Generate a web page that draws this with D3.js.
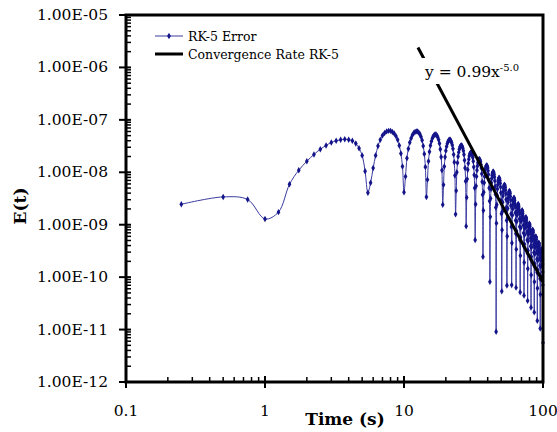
<!DOCTYPE html>
<html>
<head>
<meta charset="utf-8">
<script src="https://cdn.jsdelivr.net/npm/d3@7"></script>
<style>
  body { margin: 0; background: #fff; }
  svg { display: block; }
  text { font-family: "DejaVu Serif", serif; fill: #000; }
</style>
</head>
<body>
<svg id="chart"></svg>
<script>
const width = 557
const height = 432

const xTicks = [0.1, 1, 10, 100]
const xTickLabels = ['0.1', '1', '10', '100']
const yTicks = [1e-12, 1e-11, 1e-10, 1e-9, 1e-8, 1e-7, 1e-6, 1e-5]
const yTickLabels = ['1.00E-12', '1.00E-11', '1.00E-10', '1.00E-09', '1.00E-08', '1.00E-07', '1.00E-06', '1.00E-05']

// time step of the RK-5 run (s), first sample at t = dt
const dt = 0.25

// log10 of E(t), one value per step
const errExp = [
  -8.61, -8.47, -8.52, -8.89, -8.76, -8.23, -7.96, -7.79, -7.66, -7.56, -7.49,
  -7.43, -7.40, -7.38, -7.37, -7.38, -7.40, -7.45, -7.54, -7.68, -7.98, -8.39,
  // 5.75 - 10
  -8.20, -7.92, -7.68, -7.50, -7.38, -7.30, -7.25, -7.22, -7.21, -7.21, -7.23, -7.26, -7.31, -7.38, -7.49, -7.64, -7.89, -8.38,
  -8.08, -7.73, -7.55, -7.43, -7.35, -7.29, -7.25, -7.23, -7.22, -7.22, -7.24, -7.27, -7.32, -7.39, -7.50, -7.65, -7.90, -8.47,
  -8.14, -7.79, -7.61, -7.49, -7.41, -7.35, -7.31, -7.29, -7.28, -7.28, -7.30, -7.33, -7.38, -7.45, -7.56, -7.71, -7.96, -8.62,
  -8.24, -7.89, -7.71, -7.59, -7.51, -7.45, -7.41, -7.39, -7.38, -7.38, -7.40, -7.43, -7.48, -7.55, -7.66, -7.81, -8.06, -8.80,
  -8.35, -8.00, -7.82, -7.70, -7.62, -7.56, -7.52, -7.50, -7.49, -7.49, -7.51, -7.54, -7.59, -7.66, -7.77, -7.92, -8.17, -9.03,
  -8.48, -8.13, -7.95, -7.83, -7.75, -7.69, -7.65, -7.63, -7.62, -7.62, -7.64, -7.67, -7.72, -7.79, -7.90, -8.05, -8.30, -9.29,
  -8.61, -8.26, -8.08, -7.96, -7.88, -7.82, -7.78, -7.76, -7.75, -7.75, -7.77, -7.80, -7.85, -7.92, -8.03, -8.18, -8.43, -9.61,
  -8.73, -8.38, -8.20, -8.08, -8.00, -7.94, -7.90, -7.88, -7.87, -7.87, -7.89, -7.92, -7.97, -8.04, -8.15, -8.30, -8.55, -10.09,
  -8.85, -8.50, -8.32, -8.20, -8.12, -8.06, -8.02, -8.00, -7.99, -7.99, -8.01, -8.04, -8.09, -8.16, -8.27, -8.42, -8.67, -11.04,
  -8.97, -8.62, -8.44, -8.32, -8.24, -8.18, -8.14, -8.12, -8.11, -8.11, -8.13, -8.16, -8.21, -8.28, -8.39, -8.54, -8.79, -10.27,
  -9.10, -8.75, -8.57, -8.45, -8.37, -8.31, -8.27, -8.25, -8.24, -8.24, -8.26, -8.29, -8.34, -8.41, -8.52, -8.67, -8.92, -10.16,
  -9.22, -8.87, -8.69, -8.57, -8.49, -8.43, -8.39, -8.37, -8.36, -8.36, -8.38, -8.41, -8.46, -8.53, -8.64, -8.79, -9.04, -10.15,
  -9.35, -9.00, -8.82, -8.70, -8.62, -8.56, -8.52, -8.50, -8.49, -8.49, -8.51, -8.54, -8.59, -8.66, -8.77, -8.92, -9.17, -10.20,
  -9.47, -9.12, -8.94, -8.82, -8.74, -8.68, -8.64, -8.62, -8.61, -8.61, -8.63, -8.66, -8.71, -8.78, -8.89, -9.04, -9.29, -10.29,
  -9.59, -9.24, -9.06, -8.94, -8.86, -8.80, -8.76, -8.74, -8.73, -8.73, -8.75, -8.78, -8.83, -8.90, -9.01, -9.16, -9.41, -10.35,
  -9.72, -9.37, -9.19, -9.07, -8.99, -8.93, -8.89, -8.87, -8.86, -8.86, -8.88, -8.91, -8.96, -9.03, -9.14, -9.29, -9.54, -10.45,
  -9.84, -9.49, -9.31, -9.19, -9.11, -9.05, -9.01, -8.99, -8.98, -8.98, -9.00, -9.03, -9.08, -9.15, -9.26, -9.41, -9.66, -10.58,
  -9.96, -9.61, -9.43, -9.31, -9.23, -9.17, -9.13, -9.11, -9.10, -9.10, -9.12, -9.15, -9.20, -9.27, -9.38, -9.53, -9.78, -10.67,
  -10.09, -9.74, -9.56, -9.44, -9.36, -9.30, -9.26, -9.24, -9.23, -9.23, -9.25, -9.28, -9.33, -9.40, -9.51, -9.66, -9.91, -10.83,
  -10.21, -9.86, -9.68, -9.56, -9.48, -9.42, -9.38, -9.36, -9.35, -9.35, -9.37, -9.40, -9.45, -9.52, -9.63, -9.78, -10.03, -10.98,
  -10.33, -9.98, -9.80, -9.68, -9.60, -9.54, -9.50, -9.48, -9.47, -9.47, -9.49, -9.52, -9.57, -9.66, -9.75, -9.90, -10.15, -11.25
]

// power law trend line end points (t, E)
const trendT = [12.6, 100]
const trendE = [2.4e-6, 8.1e-11]

const seriesNames = ['RK-5 Error', 'Convergence Rate RK-5']
const navy = '#14148a'

const plot = { left: 126, right: 543, top: 15, bottom: 382 }

const svg = d3.select('#chart')
    .attr('width', width)
    .attr('height', height)

const x = d3.scaleLog().domain([0.1, 100]).range([plot.left, plot.right])
const y = d3.scaleLog().domain([1e-12, 1e-5]).range([plot.bottom, plot.top])

const data = errExp.map((e, i) => ({ t: (i + 1) * dt, e: Math.pow(10, e) }))

// minor ticks 2..9 in each decade
const minorX = []
for (let d = 0.1; d < 100; d *= 10) for (let k = 2; k <= 9; k++) minorX.push(d * k)
const minorY = []
for (let d = 1e-12; d < 1e-5; d *= 10) for (let k = 2; k <= 9; k++) minorY.push(d * k)

// error series
const line = d3.line()
    .x(d => x(d.t))
    .y(d => y(d.e))
    .curve(d3.curveCatmullRom.alpha(0.5))

svg.append('path')
    .datum(data)
    .attr('d', line)
    .attr('fill', 'none')
    .attr('stroke', '#3a3aa0')
    .attr('stroke-width', 1)

const diamond = d3.symbol().type(d3.symbolDiamond).size(12)
svg.append('g')
    .selectAll('path')
    .data(data)
    .join('path')
    .attr('d', diamond)
    .attr('transform', d => `translate(${x(d.t)},${y(d.e)})`)
    .attr('fill', navy)

// trend line
const trend = trendT.map((t, i) => ({ t: t, e: trendE[i] }))
svg.append('path')
    .datum(trend)
    .attr('d', d3.line().x(d => x(d.t)).y(d => y(d.e)))
    .attr('stroke', '#000')
    .attr('stroke-width', 3)

// trendline label on white box
svg.append('rect')
    .attr('x', 420).attr('y', 58)
    .attr('width', 98).attr('height', 26)
    .attr('fill', '#fff')
const eq = svg.append('text')
    .attr('x', 425).attr('y', 77)
    .style('font-size', '15.5px')
eq.append('tspan').text('y = 0.99x')
eq.append('tspan').text('-5.0')
    .attr('dy', -6)
    .style('font-size', '10px')

// axes frame
const axisG = svg.append('g')
axisG.selectAll('.minx')
    .data(minorX)
    .join('line')
    .attr('x1', d => x(d)).attr('x2', d => x(d))
    .attr('y1', plot.bottom).attr('y2', plot.bottom - 5)
    .attr('stroke', '#000').attr('stroke-width', 1.5)
axisG.selectAll('.majx')
    .data(xTicks)
    .join('line')
    .attr('x1', d => x(d)).attr('x2', d => x(d))
    .attr('y1', plot.bottom - 6).attr('y2', plot.bottom + 6)
    .attr('stroke', '#000').attr('stroke-width', 2)
axisG.selectAll('.miny')
    .data(minorY)
    .join('line')
    .attr('x1', plot.left).attr('x2', plot.left + 5)
    .attr('y1', d => y(d)).attr('y2', d => y(d))
    .attr('stroke', '#000').attr('stroke-width', 1.5)
axisG.selectAll('.majy')
    .data(yTicks)
    .join('line')
    .attr('x1', plot.left - 7).attr('x2', plot.left + 5)
    .attr('y1', d => y(d)).attr('y2', d => y(d))
    .attr('stroke', '#000').attr('stroke-width', 2)

svg.append('path')
    .attr('d', `M${plot.left},${plot.top}H${plot.right}V${plot.bottom}H${plot.left}Z`)
    .attr('fill', 'none')
    .attr('stroke', '#000')
    .attr('stroke-width', 3)

// tick labels
svg.append('g')
    .selectAll('text')
    .data(yTicks)
    .join('text')
    .attr('x', 108)
    .attr('y', d => y(d))
    .attr('text-anchor', 'end')
    .attr('dominant-baseline', 'central')
    .style('font-size', '15.5px')
    .text((d, i) => yTickLabels[i])

svg.append('g')
    .selectAll('text')
    .data(xTicks)
    .join('text')
    .attr('x', d => x(d))
    .attr('y', 416)
    .attr('text-anchor', 'middle')
    .style('font-size', '15.5px')
    .text((d, i) => xTickLabels[i])

// axis titles
svg.append('text')
    .attr('x', 345).attr('y', 425)
    .attr('text-anchor', 'middle')
    .style('font-size', '17px')
    .style('font-weight', 'bold')
    .text('Time (s)')

svg.append('text')
    .attr('transform', 'translate(26,206) rotate(-90)')
    .attr('text-anchor', 'middle')
    .style('font-size', '17px')
    .style('font-weight', 'bold')
    .text('E(t)')

// legend
const legend = svg.append('g')
legend.append('line')
    .attr('x1', 155).attr('x2', 183).attr('y1', 36).attr('y2', 36)
    .attr('stroke', '#3a3aa0').attr('stroke-width', 1)
legend.append('path')
    .attr('d', diamond)
    .attr('transform', 'translate(169,36)')
    .attr('fill', navy)
legend.append('line')
    .attr('x1', 155).attr('x2', 183).attr('y1', 54).attr('y2', 54)
    .attr('stroke', '#000').attr('stroke-width', 3)
legend.selectAll('text')
    .data(seriesNames)
    .join('text')
    .attr('x', 188)
    .attr('y', (d, i) => 36 + i * 18)
    .attr('dominant-baseline', 'central')
    .style('font-size', '12.5px')
    .text(d => d)
</script>
</body>
</html>
